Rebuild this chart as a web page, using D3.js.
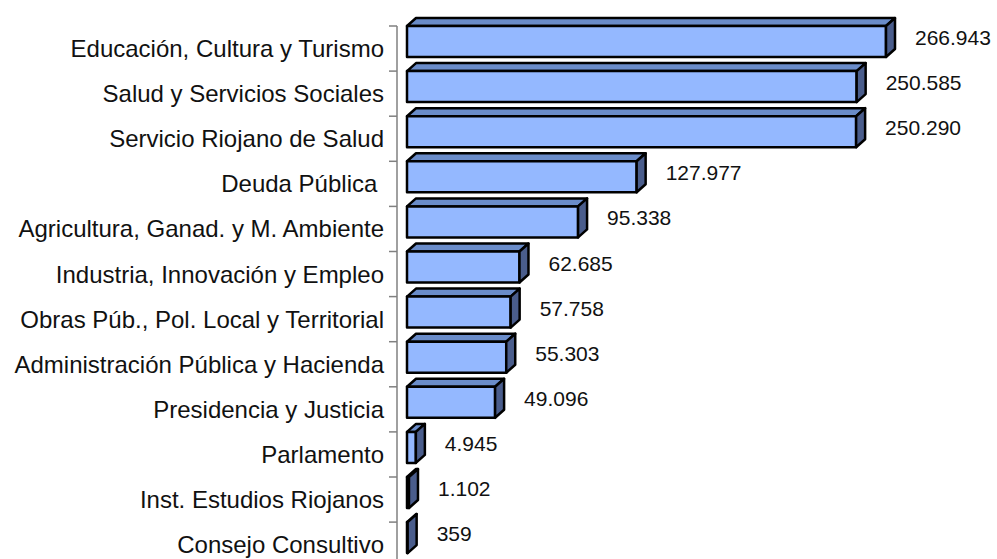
<!DOCTYPE html>
<html>
<head>
<meta charset="utf-8">
<script src="https://cdn.jsdelivr.net/npm/d3@7.9.0/dist/d3.min.js"></script>
<style>
  body { margin: 0; background: #fff; }
  svg { display: block; }
</style>
</head>
<body>
<script>
// categories and values (miles de euros)
const categories = [
  "Educación, Cultura y Turismo",
  "Salud y Servicios Sociales",
  "Servicio Riojano de Salud",
  "Deuda Pública ",
  "Agricultura, Ganad. y M. Ambiente",
  "Industria, Innovación y Empleo",
  "Obras Púb., Pol. Local y Territorial",
  "Administración Pública y Hacienda",
  "Presidencia y Justicia",
  "Parlamento",
  "Inst. Estudios Riojanos",
  "Consejo Consultivo"
];
const values = [266943, 250585, 250290, 127977, 95338, 62685, 57758, 55303, 49096, 4945, 1102, 359];

const width = 997, height = 559;
const depthX = 9, depthY = -8;   // 3d offset
const faceH = 31;

const svg = d3.select("body").append("svg")
  .attr("width", width)
  .attr("height", height);

const y = d3.scaleBand()
  .domain(categories)
  .range([26, 26 + 45.1 * categories.length])
  .padding(0);

const x = d3.scaleLinear()
  .domain([0, d3.max(values)])
  .range([407, 886]);

const fmt = d3.formatLocale({ decimal: ",", thousands: ".", grouping: [3], currency: ["", "€"] }).format(",d");

// axis line + ticks between categories
svg.append("line")
  .attr("x1", 397).attr("x2", 397)
  .attr("y1", y.range()[0]).attr("y2", height)
  .attr("stroke", "#808080").attr("stroke-width", 1.5);

svg.selectAll(".tick")
  .data(categories)
  .join("line")
  .attr("class", "tick")
  .attr("x1", 389).attr("x2", 397)
  .attr("y1", d => y(d)).attr("y2", d => y(d))
  .attr("stroke", "#808080").attr("stroke-width", 1.5);

// category labels
svg.selectAll(".cat")
  .data(categories)
  .join("text")
  .attr("class", "cat")
  .attr("x", 384)
  .attr("y", d => y(d) + y.bandwidth() / 2)
  .attr("text-anchor", "end")
  .attr("dominant-baseline", "central")
  .style("white-space", "pre")
  .style("font-family", "'Liberation Sans', Arial, Helvetica, sans-serif")
  .style("font-size", "24px")
  .attr("fill", "#111")
  .text(d => d);

const data = categories.map((c, i) => ({ cat: c, value: values[i] }));

const bars = svg.selectAll(".bar")
  .data(data)
  .join("g")
  .attr("class", "bar");

const x0 = x(0);
// top face
bars.append("path")
  .attr("d", d => {
    const y0 = y(d.cat), x1 = x(d.value);
    return `M${x0},${y0}L${x0 + depthX},${y0 + depthY}L${x1 + depthX},${y0 + depthY}L${x1},${y0}Z`;
  })
  .attr("fill", "#6a8cc9");

// front face
bars.append("rect")
  .attr("x", x0)
  .attr("y", d => y(d.cat))
  .attr("width", d => x(d.value) - x0)
  .attr("height", faceH)
  .attr("fill", "#94b8ff");

// side face
bars.append("path")
  .attr("d", d => {
    const y0 = y(d.cat), x1 = x(d.value);
    return `M${x1},${y0}L${x1 + depthX},${y0 + depthY}L${x1 + depthX},${y0 + faceH + depthY}L${x1},${y0 + faceH}Z`;
  })
  .attr("fill", "#4a5d8c");

// outlines
bars.selectAll("path, rect")
  .attr("stroke", "#000")
  .attr("stroke-width", 2.5)
  .attr("stroke-linejoin", "round");

// value labels
svg.selectAll(".val")
  .data(data)
  .join("text")
  .attr("class", "val")
  .attr("x", d => x(d.value) + depthX + 20)
  .attr("y", d => y(d.cat) + (faceH + depthY) / 2)
  .attr("dominant-baseline", "central")
  .style("font-family", "'Liberation Sans', Arial, Helvetica, sans-serif")
  .style("font-size", "21px")
  .attr("fill", "#111")
  .text(d => fmt(d.value));
</script>
</body>
</html>
